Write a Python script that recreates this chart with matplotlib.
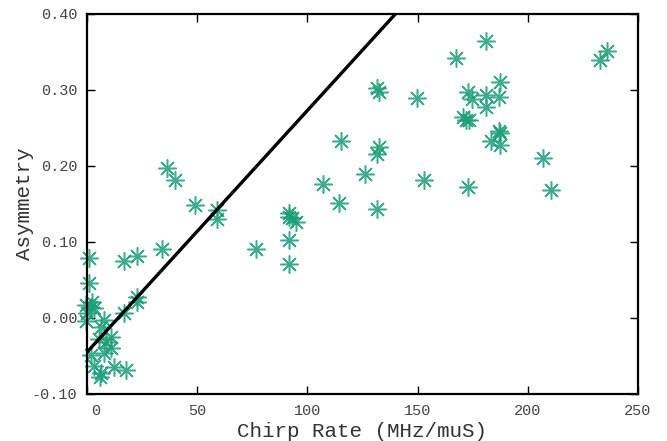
import matplotlib
matplotlib.use("Agg")
import matplotlib.pyplot as plt
import matplotlib.transforms as mtransforms
import numpy as np

# Measured chirp rate (MHz/muS) and the corresponding asymmetry
chirp_rate = [
    0.9, 0.9, 2.1, -0.6, 3.2, 1.7, -0.6, 0.0, 7.7, 6.2, 10.8, 5.5, 8.5,
    10.8, 7.7, 1.7, 3.2, 6.2, 5.8, 12.3, 17.6, 16.8, 22.9, 22.9, 16.8,
    22.9, 33.9, 36.5, 40.0, 49.0, 59.2, 59.2, 76.7, 91.8, 91.8, 93.0,
    94.8, 91.8, 91.8, 107.3, 114.2, 115.3, 126.0, 131.5, 132.7, 131.7,
    131.7, 132.3, 149.8, 152.7, 167.3, 170.6, 172.0, 173.3, 172.9, 174.8,
    172.9, 181.2, 181.0, 181.2, 187.0, 187.3, 187.0, 187.6, 183.2, 187.3,
    207.0, 210.5, 232.7, 236.0,
]
asymmetry = [
    0.079, 0.046, 0.021, 0.017, 0.013, 0.014, -0.004, 0.006, -0.003,
    -0.012, -0.025, -0.027, -0.031, -0.040, -0.046, -0.049, -0.063,
    -0.073, -0.078, -0.065, -0.068, 0.006, 0.028, 0.021, 0.075, 0.081,
    0.091, 0.197, 0.182, 0.149, 0.142, 0.130, 0.091, 0.138, 0.133, 0.131,
    0.126, 0.103, 0.071, 0.176, 0.151, 0.233, 0.189, 0.216, 0.225, 0.144,
    0.302, 0.297, 0.289, 0.182, 0.342, 0.265, 0.261, 0.260, 0.298, 0.288,
    0.172, 0.364, 0.277, 0.294, 0.291, 0.311, 0.246, 0.243, 0.233, 0.228,
    0.210, 0.168, 0.339, 0.351,
]

# Linear trend line: asymmetry = slope * rate + intercept
fit_slope = 0.00318
fit_intercept = -0.045

x_ticks = [0, 50, 100, 150, 200, 250]
y_ticks = [-0.10, 0.00, 0.10, 0.20, 0.30, 0.40]
y_tick_labels = ["-0.10", "0.00", "0.10", "0.20", "0.30", "0.40"]

mono = ["Liberation Mono", "DejaVu Sans Mono"]
plt.rcParams["font.family"] = mono

fig = plt.figure(figsize=(6.67, 4.41), dpi=100)
ax = fig.add_axes([0.1304, 0.1066, 0.8261, 0.8617])

ax.plot(chirp_rate, asymmetry, linestyle="none", marker=(8, 2, 0),
        markersize=13, markeredgewidth=1.1, color="#1b9e77", alpha=0.85,
        clip_on=False, zorder=2)

xl = np.array([0, 250])
ax.plot(xl, fit_slope * xl + fit_intercept, color="black", linewidth=2.4,
        zorder=3)

ax.set_xlim(0, 250)
ax.set_ylim(-0.10, 0.40)
ax.set_xticks(x_ticks)
ax.set_yticks(y_ticks)
ax.set_yticklabels(y_tick_labels)

for s in ax.spines.values():
    s.set_linewidth(1.6)
    s.set_color("black")

ax.tick_params(direction="in", length=6, width=1.0, top=True, right=True,
               labelsize=11, labelcolor="#444444", pad=7)

# nudge the leftmost x tick label away from the corner
fig.canvas.draw()
first = ax.get_xticklabels()[0]
first.set_transform(first.get_transform() +
                    mtransforms.ScaledTranslation(9 / 100, 0,
                                                  fig.dpi_scale_trans))

ax.set_xlabel("Chirp Rate (MHz/muS)", fontsize=15, color="#333333",
              labelpad=3)
ax.set_ylabel("Asymmetry", fontsize=15, color="#333333", labelpad=-2)

fig.savefig("out.png", dpi=100)
